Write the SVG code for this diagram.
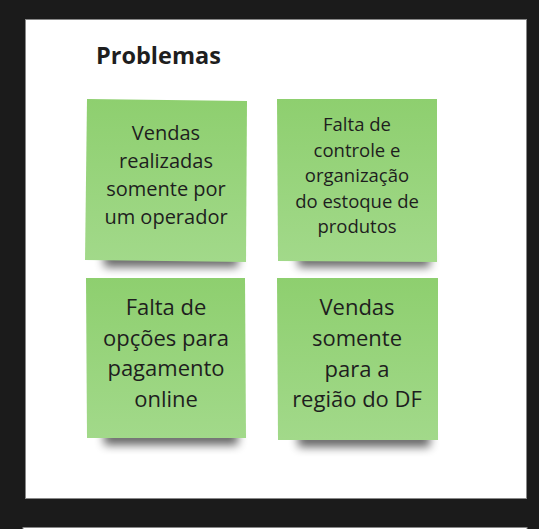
<svg xmlns="http://www.w3.org/2000/svg" width="539" height="529" viewBox="0 0 539 529">
<defs>
<linearGradient id="g" x1="0" y1="0" x2="0" y2="1">
<stop offset="0" stop-color="#8ecf6f"/>
<stop offset="1" stop-color="#a2d98a"/>
</linearGradient>
<filter id="sh" x="-30%" y="-100%" width="160%" height="300%">
<feGaussianBlur stdDeviation="5"/>
</filter>
</defs>
<style>
.note{fill:url(#g);}
.shadow{fill:#000;opacity:0.6;filter:url(#sh);}
text{font-family:"Open Sans","Noto Sans",sans-serif;fill:#1e1e1e;text-anchor:middle;}
.title{font-weight:bold;font-size:23.5px;text-anchor:start;}
</style>
<rect x="0" y="0" width="539" height="529" fill="#1b1b1b"/>
<rect x="25.5" y="19.5" width="501" height="479" fill="#fff" stroke="#888" stroke-width="1"/>
<rect x="23" y="527.5" width="504" height="4" fill="#fff" stroke="#888" stroke-width="1"/>
<text class="title" x="96" y="64">Problemas</text>

<g id="n1">
<rect class="shadow" x="104" y="252" width="134" height="15"/>
<polygon class="note" points="87,99 247,101 246,262 85,260"/>
<text font-size="20" x="166" y="140">Vendas</text>
<text font-size="20" x="166" y="168">realizadas</text>
<text font-size="20" x="166" y="196">somente por</text>
<text font-size="20" x="166" y="224">um operador</text>
</g>

<g id="n2">
<rect class="shadow" x="298" y="252" width="132" height="15"/>
<polygon class="note" points="277,99 437,99 437,262 278,261"/>
<text font-size="18.5" x="357" y="131">Falta de</text>
<text font-size="18.5" x="357" y="156.5">controle e</text>
<text font-size="18.5" x="357" y="182">organização</text>
<text font-size="18.5" x="357" y="207.5">do estoque de</text>
<text font-size="18.5" x="357" y="233">produtos</text>
</g>

<g id="n3">
<rect class="shadow" x="104" y="430" width="134" height="15"/>
<polygon class="note" points="86,278 245,278 246,438 87,438"/>
<text font-size="22" x="166" y="315">Falta de</text>
<text font-size="22" x="166" y="345.5">opções para</text>
<text font-size="22" x="166" y="376">pagamento</text>
<text font-size="22" x="166" y="406.5">online</text>
</g>

<g id="n4">
<rect class="shadow" x="298" y="432" width="132" height="15"/>
<polygon class="note" points="277,278 438,278 438,440 278,440"/>
<text font-size="22" x="357" y="315">Vendas</text>
<text font-size="22" x="357" y="346">somente</text>
<text font-size="22" x="357" y="376.5">para a</text>
<text font-size="22" x="357" y="407">região do DF</text>
</g>
<g id="connectors"/>
</svg>
